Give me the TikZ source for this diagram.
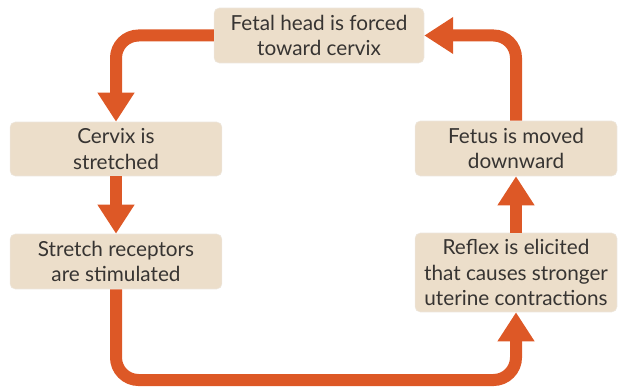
\documentclass[tikz,border=0pt]{standalone}
\usepackage{fontspec}
\setmainfont{Lato}
\usetikzlibrary{arrows.meta}
\definecolor{boxfill}{RGB}{236,222,202}
\definecolor{flowcol}{RGB}{221,88,38}
\definecolor{textcol}{RGB}{55,52,50}
\tikzset{
  stepbox/.style={rectangle,rounded corners=3pt,fill=boxfill,draw=boxfill!92!black!50,line width=0.3pt,
    text=textcol,align=center,inner sep=0pt,font=\fontsize{11.8}{14.6}\selectfont},
  flow/.style={draw=flowcol,line width=0.24cm,rounded corners=0.45cm,
    -{Triangle[length=5.8mm,width=7mm]}},
  every picture/.style={line cap=butt,line join=miter}
}
\begin{document}
\begin{tikzpicture}[x=0.02cm,y=-0.02cm]
    \useasboundingbox (0,0) rectangle (621,388);
    \node[stepbox,minimum width=4.2cm,minimum height=1.1cm] (head) at (319,35.5) {Fetal head is forced\\toward cervix};
    \node[stepbox,minimum width=4.24cm,minimum height=1.08cm] (cervix) at (116,149) {Cervix is\\stretched};
    \node[stepbox,minimum width=4.24cm,minimum height=1.1cm] (recep) at (116,261.5) {Stretch receptors\\are stimulated};
    \node[stepbox,minimum width=4.04cm,minimum height=1.1cm] (fetus) at (516,148.5) {Fetus is moved\\downward};
    \node[stepbox,minimum width=4.04cm,minimum height=1.58cm] (reflex) at (516,272.5) {Reflex is elicited\\that causes stronger\\uterine contractions};
    \coordinate (bend) at (316,380);
    \draw[flow] (head.west) -| (cervix.north);
    \draw[flow] (cervix.south) -- (recep.north);
    \draw[flow] (recep.south) |- (bend) -| (reflex.south);
    \draw[flow] (reflex.north) -- (fetus.south);
    \draw[flow] (fetus.north) |- (head.east);
\end{tikzpicture}
\end{document}
